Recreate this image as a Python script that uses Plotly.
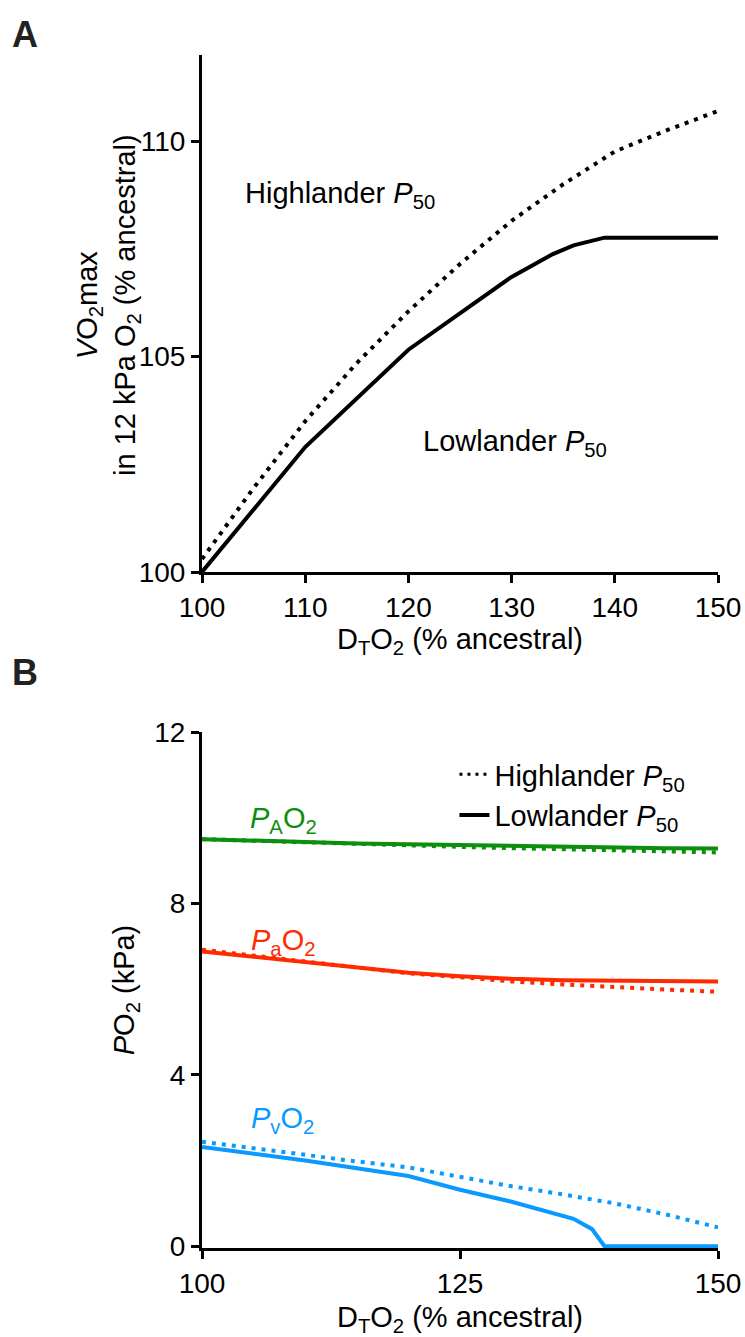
import plotly.graph_objects as go

# ---------- Panel A data ----------
a_high_x = [100, 105, 110, 115, 120, 125, 130, 135, 140, 145, 150]
a_high_y = [100.3, 101.95, 103.5, 104.85, 106.05, 107.15, 108.15, 109.0, 109.76, 110.25, 110.7]
a_low_x = [100, 110, 120, 130, 134, 136, 139, 150]
a_low_y = [100.0, 102.9, 105.16, 106.85, 107.38, 107.58, 107.76, 107.76]

# ---------- Panel B data ----------
b_x = [100, 105, 110, 115, 120, 125, 130, 135, 140, 145, 150]
pA_low = [9.50, 9.46, 9.43, 9.40, 9.38, 9.36, 9.33, 9.31, 9.30, 9.29, 9.28]
pA_high = [9.50, 9.46, 9.42, 9.39, 9.36, 9.32, 9.29, 9.26, 9.23, 9.21, 9.19]
pa_low = [6.88, 6.76, 6.64, 6.50, 6.38, 6.30, 6.24, 6.21, 6.20, 6.19, 6.18]
pa_high = [6.92, 6.78, 6.65, 6.50, 6.37, 6.28, 6.18, 6.11, 6.04, 5.99, 5.94]
pv_low_x = [100, 110, 120, 125, 130, 134, 136, 137.8, 139, 150]
pv_low_y = [2.32, 2.00, 1.64, 1.32, 1.04, 0.76, 0.64, 0.40, 0.0, 0.0]
pv_high = [2.44, 2.28, 2.12, 1.98, 1.84, 1.62, 1.40, 1.21, 1.00, 0.74, 0.44]

GREEN = "#0c8f0c"
RED = "#ff2a00"
BLUE = "#0a9aff"
FONT = "Liberation Sans, Arial, sans-serif"
DOT = "4px,6px"
LW = 4
FS = 29

fig = go.Figure()

# Panel A
fig.add_trace(go.Scatter(x=a_high_x, y=a_high_y, mode="lines", line=dict(color="black", width=LW, dash=DOT),
                         xaxis="x", yaxis="y", showlegend=False))
fig.add_trace(go.Scatter(x=a_low_x, y=a_low_y, mode="lines", line=dict(color="black", width=LW),
                         xaxis="x", yaxis="y", showlegend=False))

# Panel B
for xs, ys, col, dash in [
    (b_x, pA_high, GREEN, DOT), (b_x, pA_low, GREEN, None),
    (b_x, pa_high, RED, DOT), (b_x, pa_low, RED, None),
    (b_x, pv_high, BLUE, DOT), (pv_low_x, pv_low_y, BLUE, None),
]:
    ln = dict(color=col, width=LW)
    if dash:
        ln["dash"] = dash
    fig.add_trace(go.Scatter(x=xs, y=ys, mode="lines", line=ln, xaxis="x2", yaxis="y2", showlegend=False))

# Legend entries (black)
fig.add_trace(go.Scatter(x=[None], y=[None], mode="lines", line=dict(color="black", width=3, dash="3px,5px"),
                         name="Highlander <i>P</i><sub>50</sub>", xaxis="x2", yaxis="y2"))
fig.add_trace(go.Scatter(x=[None], y=[None], mode="lines", line=dict(color="black", width=4),
                         name="Lowlander <i>P</i><sub>50</sub>", xaxis="x2", yaxis="y2"))

axis_common = dict(showline=True, linecolor="black", linewidth=3, ticks="outside", ticklen=8, tickwidth=3,
                   tickcolor="black", showgrid=False, zeroline=False, layer="below traces", automargin=False,
                   tickfont=dict(family=FONT, size=28, color="black"))

xd = [202 / 745, 718 / 745]
fig.update_layout(
    width=745, height=1337,
    margin=dict(l=0, r=0, t=0, b=0, autoexpand=False),
    paper_bgcolor="white", plot_bgcolor="white",
    font=dict(family=FONT, size=FS, color="black"),
    xaxis=dict(domain=xd, range=[100, 150], tickvals=[100, 110, 120, 130, 140, 150], anchor="y",
               title=dict(text="D<sub>T</sub>O<sub>2</sub> (% ancestral)", font=dict(size=FS), standoff=4),
               **axis_common),
    yaxis=dict(domain=[1 - 572 / 1337, 1 - 55 / 1337], range=[100, 112], tickvals=[100, 105, 110], anchor="x",
               **axis_common),
    xaxis2=dict(domain=xd, range=[100, 150], tickvals=[100, 125, 150], anchor="y2",
                title=dict(text="D<sub>T</sub>O<sub>2</sub> (% ancestral)", font=dict(size=FS), standoff=10),
                **axis_common),
    yaxis2=dict(domain=[1 - 1248 / 1337, 1 - 732 / 1337], range=[-0.04, 12], tickvals=[0, 4, 8, 12], anchor="x2",
                title=dict(text="<i>P</i>O<sub>2</sub> (kPa)", font=dict(size=FS), standoff=12),
                **axis_common),
    legend=dict(x=0.61, y=1 - 749 / 1337, xanchor="left", yanchor="top", bgcolor="rgba(0,0,0,0)",
                font=dict(family=FONT, size=FS, color="black"), itemwidth=30, tracegroupgap=0),
)

ann = [
    dict(text="<b>A</b>", x=10 / 745, y=1 - 35 / 1337, xref="paper", yref="paper", showarrow=False,
         font=dict(size=36, color="#222"), xanchor="left", yanchor="middle"),
    dict(text="<b>B</b>", x=10 / 745, y=1 - 672 / 1337, xref="paper", yref="paper", showarrow=False,
         font=dict(size=36, color="#222"), xanchor="left", yanchor="middle"),
    dict(text="<i>V</i>O<sub>2</sub>max<br>in 12 kPa O<sub>2</sub> (% ancestral)",
         x=108 / 745, y=1 - 305 / 1337, xref="paper", yref="paper", showarrow=False, textangle=-90,
         xanchor="center", yanchor="middle", font=dict(size=FS)),
    dict(text="Highlander <i>P</i><sub>50</sub>", x=113.4, y=108.75, xref="x", yref="y", showarrow=False,
         font=dict(size=FS)),
    dict(text="Lowlander <i>P</i><sub>50</sub>", x=130.3, y=103.0, xref="x", yref="y", showarrow=False,
         font=dict(size=FS)),
    dict(text="<i>P</i><sub>A</sub>O<sub>2</sub>", x=107.9, y=9.95, xref="x2", yref="y2", showarrow=False,
         font=dict(size=FS, color=GREEN)),
    dict(text="<i>P</i><sub>a</sub>O<sub>2</sub>", x=107.8, y=7.1, xref="x2", yref="y2", showarrow=False,
         font=dict(size=FS, color=RED)),
    dict(text="<i>P</i><sub>v</sub>O<sub>2</sub>", x=107.8, y=2.95, xref="x2", yref="y2", showarrow=False,
         font=dict(size=FS, color=BLUE)),
]
fig.update_layout(annotations=ann)

fig.write_html("out.html", config={"displayModeBar": False},
               post_script="document.body.style.margin='0';document.body.style.overflow='hidden';")
